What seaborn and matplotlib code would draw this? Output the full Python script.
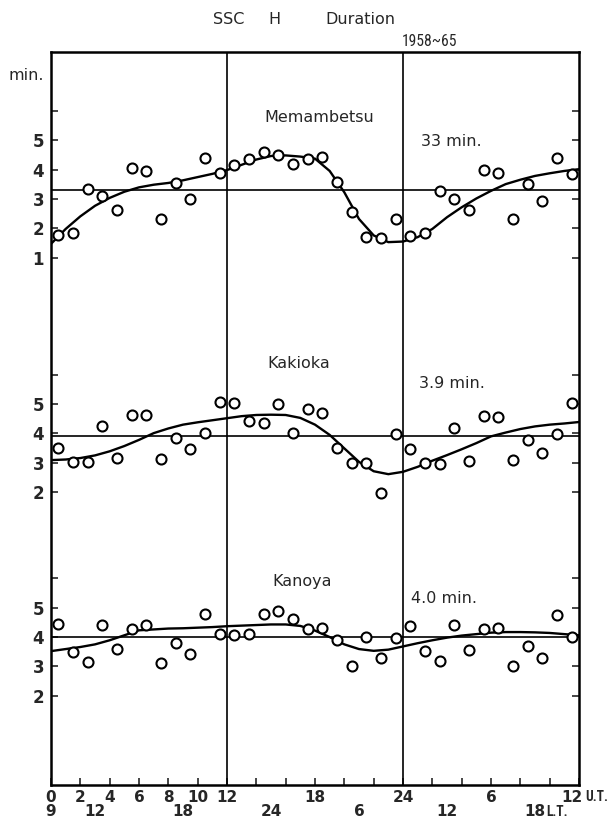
import numpy as np
import pandas as pd
import matplotlib
matplotlib.use("Agg")
import matplotlib.pyplot as plt
from matplotlib import font_manager
import seaborn as sns
from matplotlib.transforms import blended_transform_factory

# ---------------- data ----------------
stations = ["Memambetsu", "Kakioka", "Kanoya"]
mean_labels = ["33 min.", "3.9 min.", "4.0 min."]
mean_values = [3.3, 3.9, 4.0]

obs_ut = [0.5, 1.5, 2.5, 3.5, 4.5, 5.5, 6.5, 7.5, 8.5, 9.5, 10.5, 11.5,
          12.5, 13.5, 14.5, 15.5, 16.5, 17.5, 18.5, 19.5, 20.5, 21.5, 22.5, 23.5,
          24.5, 25.5, 26.5, 27.5, 28.5, 29.5, 30.5, 31.5, 32.5, 33.5, 34.5, 35.5]

memambetsu_obs = [1.76, 1.85, 3.36, 3.11, 2.64, 4.05, 3.95, 2.32, 3.56, 3.00, 4.41, 3.90,
                  4.16, 4.36, 4.62, 4.49, 4.19, 4.38, 4.45, 3.59, 2.57, 1.70, 1.68, 2.31,
                  1.73, 1.84, 3.28, 3.00, 2.64, 4.00, 3.89, 2.31, 3.51, 2.94, 4.39, 3.87]
kakioka_obs = [3.51, 3.02, 3.02, 4.26, 3.16, 4.63, 4.63, 3.14, 3.86, 3.48, 4.02, 5.08,
               5.05, 4.44, 4.36, 5.00, 4.01, 4.82, 4.69, 3.49, 2.98, 2.98, 1.97, 3.99,
               3.47, 2.98, 2.95, 4.18, 3.07, 4.59, 4.56, 3.08, 3.76, 3.34, 3.99, 5.05]
kanoya_obs = [4.44, 3.48, 3.14, 4.40, 3.60, 4.29, 4.40, 3.11, 3.79, 3.43, 4.80, 4.09,
              4.08, 4.09, 4.78, 4.89, 4.60, 4.29, 4.31, 3.91, 3.00, 4.00, 3.29, 3.98,
              4.37, 3.51, 3.17, 4.40, 3.57, 4.29, 4.31, 3.02, 3.71, 3.30, 4.75, 4.00]

curve_ut = list(range(0, 37))
memambetsu_curve = [1.47, 1.98, 2.41, 2.77, 3.04, 3.25, 3.40, 3.49, 3.55, 3.64, 3.75, 3.86,
                    3.99, 4.17, 4.35, 4.47, 4.49, 4.45, 4.38, 3.96, 3.23, 2.32, 1.76, 1.53,
                    1.55, 1.70, 1.98, 2.38, 2.72, 3.02, 3.28, 3.51, 3.66, 3.79, 3.88, 3.96, 4.02]
kakioka_curve = [3.09, 3.11, 3.16, 3.25, 3.39, 3.57, 3.78, 4.01, 4.17, 4.30, 4.38, 4.45,
                 4.52, 4.59, 4.63, 4.64, 4.63, 4.53, 4.30, 3.95, 3.49, 3.03, 2.71, 2.61,
                 2.69, 2.86, 3.07, 3.26, 3.46, 3.67, 3.90, 4.03, 4.15, 4.24, 4.30, 4.34, 4.39]
kanoya_curve = [3.52, 3.59, 3.66, 3.75, 3.89, 4.06, 4.23, 4.26, 4.29, 4.30, 4.32, 4.34,
                4.37, 4.39, 4.41, 4.43, 4.43, 4.38, 4.22, 4.00, 3.75, 3.59, 3.53, 3.57,
                3.68, 3.79, 3.89, 3.98, 4.05, 4.10, 4.15, 4.17, 4.17, 4.16, 4.14, 4.10, 4.06]

ut_tick_labels = {0: "0", 2: "2", 4: "4", 6: "6", 8: "8", 10: "10", 12: "12",
                  18: "18", 24: "24", 30: "6"}
lt_tick_labels = {0: "9", 3: "12", 9: "18", 15: "24", 21: "6", 27: "12"}
y_ticks = {"Memambetsu": [1, 2, 3, 4, 5, 6], "Kakioka": [2, 3, 4, 5, 6], "Kanoya": [2, 3, 4, 5, 6]}

# ---------------- layout (positions only) ----------------
offsets = {"Memambetsu": 15.95, "Kakioka": 6.95, "Kanoya": 0.0}
name_pos = {"Memambetsu": (18.3, 21.75), "Kakioka": (16.9, 13.35), "Kanoya": (17.1, 5.88)}
mean_pos = {"Memambetsu": (27.3, 20.9), "Kakioka": (27.35, 12.67), "Kanoya": (26.8, 5.33)}

obs_series = {"Memambetsu": memambetsu_obs, "Kakioka": kakioka_obs, "Kanoya": kanoya_obs}
curve_series = {"Memambetsu": memambetsu_curve, "Kakioka": kakioka_curve, "Kanoya": kanoya_curve}

obs_df = pd.concat([pd.DataFrame({"station": s, "UT": obs_ut, "value": obs_series[s]})
                    for s in stations], ignore_index=True)
obs_df["y"] = obs_df["value"] + obs_df["station"].map(offsets)
curve_df = pd.concat([pd.DataFrame({"station": s, "UT": curve_ut, "value": curve_series[s]})
                      for s in stations], ignore_index=True)
curve_df["y"] = curve_df["value"] + curve_df["station"].map(offsets)

sns.set_style("white")
plt.rcParams["font.family"] = ["DejaVu Sans"]

# pick a narrow face for the compact labels, if any is installed
installed = {f.name for f in font_manager.fontManager.ttflist}
NARROW = "DejaVu Sans"
NSTRETCH = "normal"
for cand in ["Roboto Condensed", "Liberation Sans Narrow", "Open Sans Condensed",
             "Noto Sans Condensed", "DejaVu Sans Condensed"]:
    if cand in installed:
        NARROW = cand
        break
else:
    if any(f.name == "DejaVu Sans" and str(f.stretch) in ("condensed", "semi-condensed")
           for f in font_manager.fontManager.ttflist):
        NSTRETCH = "condensed"

fig = plt.figure(figsize=(6.10, 8.24), dpi=100)
ax = fig.add_axes([51 / 610, 1 - 785 / 824, 528 / 610, 733 / 824])

# reference lines
for s, m in zip(stations, mean_values):
    ax.axhline(m + offsets[s], color="black", lw=1.2, zorder=1)
for xv in (12, 24):
    ax.axvline(xv, color="black", lw=1.2, zorder=1)

sns.lineplot(data=curve_df, x="UT", y="y", units="station", estimator=None,
             color="black", lw=1.7, sort=True, ax=ax, zorder=2)
sns.scatterplot(data=obs_df, x="UT", y="y", marker="o", s=52, color="black",
                linewidth=1.5, ax=ax, zorder=3)
pts = ax.collections[-1]
pts.set_facecolor("white")
pts.set_edgecolor("black")

ax.set_xlim(0, 36)
ax.set_ylim(-1.05, 23.97)

# y ticks
yt, yl = [], []
for s in stations:
    for v in y_ticks[s]:
        yt.append(v + offsets[s])
        yl.append("" if v == 6 else str(v))
ax.set_yticks(yt)
ax.set_yticklabels(yl, fontsize=12, fontweight="bold")
ax.set_xticks(list(range(0, 37, 2)))
ax.set_xticklabels([])
ax.tick_params(axis="y", direction="in", length=5, width=1.2, left=True, right=True,
               labelleft=True, labelright=False, pad=5)
ax.tick_params(axis="x", direction="in", length=5, width=1.2, bottom=True, top=False)
ax.set_xlabel("")
ax.set_ylabel("")
for sp in ax.spines.values():
    sp.set_visible(True)
    sp.set_color("black")
    sp.set_linewidth(1.8)

renderer = fig.canvas.get_renderer()


def fit_width(txt, max_px, start=12.0, floor=6.0):
    size = start
    txt.set_fontsize(size)
    while txt.get_window_extent(renderer).width > max_px and size > floor:
        size -= 0.25
        txt.set_fontsize(size)


narrow_kw = dict(fontweight="bold", family=NARROW, fontstretch=NSTRETCH, va="center")

# bottom labels: U.T. and L.T. rows
tr = blended_transform_factory(ax.transData, fig.transFigure)
y_ut, y_lt = 1 - 797 / 824, 1 - 812 / 824
for h, lab in ut_tick_labels.items():
    ax.text(h, y_ut, lab, transform=tr, ha="center", va="center",
            fontsize=11, fontweight="bold")
ax.text(36.27, y_ut, "12", transform=tr, ha="right", va="center",
        fontsize=11, fontweight="bold")
t_ut = ax.text(36.41, y_ut, "U.T.", transform=tr, ha="left", **narrow_kw)
fit_width(t_ut, 23, start=12)
for h, lab in lt_tick_labels.items():
    ax.text(h, y_lt, lab, transform=tr, ha="center", va="center",
            fontsize=11, fontweight="bold")
ax.text(33.0, y_lt, "18", transform=tr, ha="center", va="center",
        fontsize=11, fontweight="bold")
t_lt = ax.text(33.78, y_lt, "L.T.", transform=tr, ha="left", **narrow_kw)
fit_width(t_lt, 22, start=12)

# panel labels
for s, lab in zip(stations, mean_labels):
    ax.text(*name_pos[s], s, ha="center", va="center", fontsize=11.5)
    ax.text(*mean_pos[s], lab, ha="center", va="center", fontsize=11.5)

# titles
fig.text(26 / 610, 1 - 75 / 824, "min.", ha="center", va="center", fontsize=11.5)
fig.text(229 / 610, 1 - 20 / 824, "SSC", ha="center", va="center", fontsize=11.5)
fig.text(274 / 610, 1 - 20 / 824, "H", ha="center", va="center", fontsize=11.5)
fig.text(360 / 610, 1 - 20 / 824, "Duration", ha="center", va="center", fontsize=11.5)
t_yr = fig.text(430 / 610, 1 - 42 / 824, "1958~65", ha="center", va="center",
                family=NARROW, fontstretch=NSTRETCH)
fit_width(t_yr, 56, start=12.5)

fig.savefig("out.png", dpi=100, facecolor="white")
